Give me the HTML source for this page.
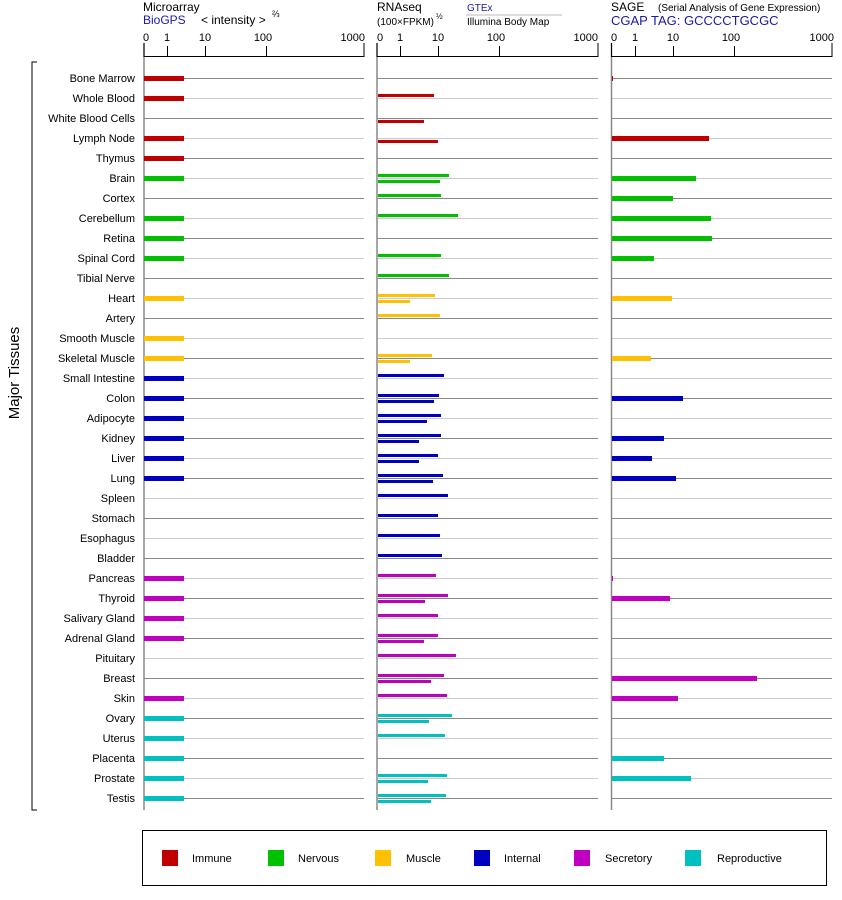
<!DOCTYPE html>
<html><head><meta charset="utf-8"><style>
html,body{margin:0;padding:0;background:#fff;}
svg{display:block;font-family:"Liberation Sans",Arial,sans-serif;}
</style></head><body>
<svg id="s" width="842" height="900" viewBox="0 0 842 900" xmlns="http://www.w3.org/2000/svg">
<rect width="842" height="900" fill="#fff"/>
<g font-size="12" fill="#000">
<text x="143" y="11">Microarray</text>
<text x="143" y="24" fill="#1a1aa6">BioGPS</text>
<text x="201" y="24">&lt; intensity &gt;</text>
<text x="272" y="17" font-size="9">⅔</text>
<text x="377" y="11">RNAseq</text>
<text x="377" y="25" font-size="10">(100×FPKM)</text>
<text x="436" y="19" font-size="8">½</text>
<text x="467" y="11" font-size="10" fill="#1a1aa6">GTEx</text>
<line x1="466" y1="15" x2="562" y2="15" stroke="#bbb"/>
<text x="467" y="25" font-size="10">Illumina Body Map</text>
<text x="611" y="11">SAGE</text>
<text x="658" y="11" font-size="10">(Serial Analysis of Gene Expression)</text>
<text x="611" y="25" fill="#1a1aa6" font-size="13">CGAP TAG: GCCCCTGCGC</text>
</g>
<g font-size="11" fill="#000">
<text x="143" y="41">0</text><text x="167" y="41" text-anchor="middle">1</text><text x="205" y="41" text-anchor="middle">10</text><text x="263" y="41" text-anchor="middle">100</text><text x="365" y="41" text-anchor="end">1000</text>
<text x="377" y="41">0</text><text x="400" y="41" text-anchor="middle">1</text><text x="438" y="41" text-anchor="middle">10</text><text x="496" y="41" text-anchor="middle">100</text><text x="598" y="41" text-anchor="end">1000</text>
<text x="611" y="41">0</text><text x="635" y="41" text-anchor="middle">1</text><text x="673" y="41" text-anchor="middle">10</text><text x="731" y="41" text-anchor="middle">100</text><text x="834" y="41" text-anchor="end">1000</text>
</g>
<g id="grid"></g>
<g font-size="11" fill="#000" text-anchor="end">
<text x="135" y="82">Bone Marrow</text>
<text x="135" y="102">Whole Blood</text>
<text x="135" y="122">White Blood Cells</text>
<text x="135" y="142">Lymph Node</text>
<text x="135" y="162">Thymus</text>
<text x="135" y="182">Brain</text>
<text x="135" y="202">Cortex</text>
<text x="135" y="222">Cerebellum</text>
<text x="135" y="242">Retina</text>
<text x="135" y="262">Spinal Cord</text>
<text x="135" y="282">Tibial Nerve</text>
<text x="135" y="302">Heart</text>
<text x="135" y="322">Artery</text>
<text x="135" y="342">Smooth Muscle</text>
<text x="135" y="362">Skeletal Muscle</text>
<text x="135" y="382">Small Intestine</text>
<text x="135" y="402">Colon</text>
<text x="135" y="422">Adipocyte</text>
<text x="135" y="442">Kidney</text>
<text x="135" y="462">Liver</text>
<text x="135" y="482">Lung</text>
<text x="135" y="502">Spleen</text>
<text x="135" y="522">Stomach</text>
<text x="135" y="542">Esophagus</text>
<text x="135" y="562">Bladder</text>
<text x="135" y="582">Pancreas</text>
<text x="135" y="602">Thyroid</text>
<text x="135" y="622">Salivary Gland</text>
<text x="135" y="642">Adrenal Gland</text>
<text x="135" y="662">Pituitary</text>
<text x="135" y="682">Breast</text>
<text x="135" y="702">Skin</text>
<text x="135" y="722">Ovary</text>
<text x="135" y="742">Uterus</text>
<text x="135" y="762">Placenta</text>
<text x="135" y="782">Prostate</text>
<text x="135" y="802">Testis</text>
</g>
<path d="M37 62H32V810H37" fill="none" stroke="#000"/>
<text transform="translate(19,373) rotate(-90)" font-size="15" text-anchor="middle">Major Tissues</text>
<rect x="142.5" y="830.5" width="684" height="55" fill="none" stroke="#000"/>
<g font-size="11">
<rect x="162" y="850" width="16" height="16" fill="#c00000"/><text x="192" y="862">Immune</text>
<rect x="268" y="850" width="16" height="16" fill="#00c000"/><text x="298" y="862">Nervous</text>
<rect x="375" y="850" width="16" height="16" fill="#ffc000"/><text x="406" y="862">Muscle</text>
<rect x="474" y="850" width="16" height="16" fill="#0000c0"/><text x="504" y="862">Internal</text>
<rect x="574" y="850" width="16" height="16" fill="#c000c0"/><text x="605" y="862">Secretory</text>
<rect x="685" y="850" width="16" height="16" fill="#00c0c0"/><text x="717" y="862">Reproductive</text>
</g>
<g id="bars"></g>
</svg>
<script>
var NS="http://www.w3.org/2000/svg";
function el(p,t,a){var e=document.createElementNS(NS,t);for(var k in a)e.setAttribute(k,a[k]);p.appendChild(e);return e;}
var g=document.getElementById("grid"),b=document.getElementById("bars");
var N=37;
var panels=[[144,364,[167,205,266]],[377,598,[400,438,499]],[611.5,832,[635,673,734]]];
panels.forEach(function(p){
 for(var i=0;i<N;i++){var y=78+20*i+0.5;el(g,"line",{x1:p[0],x2:p[1],y1:y,y2:y,stroke:i%2?"#cccccc":"#888888"});}
 el(g,"line",{x1:p[0],x2:p[0],y1:43,y2:810,stroke:"#888",'stroke-width':1.5});
 el(g,"line",{x1:p[0],x2:p[1],y1:56.5,y2:56.5,stroke:"#000"});
 el(g,"line",{x1:p[0],x2:p[0],y1:43,y2:57,stroke:"#000"});
 el(g,"line",{x1:p[1],x2:p[1],y1:43,y2:57,stroke:"#000"});
 p[2].forEach(function(x){el(g,"line",{x1:x+.5,x2:x+.5,y1:46,y2:57,stroke:"#000"});});
});
var C={I:"#c00000",N:"#00c000",M:"#ffc000",T:"#0000c0",S:"#c000c0",R:"#00c0c0"};
var cat=[];for(var i=0;i<N;i++)cat.push(i<5?"I":i<11?"N":i<15?"M":i<25?"T":i<32?"S":"R");
var ma=[1,1,0,1,1, 1,0,1,1,1,0, 1,0,1,1, 1,1,1,1,1,1,0,0,0,0, 1,1,1,1,0,0,1, 1,1,1,1,1];
var r1={1:434,5:449,6:441,7:458,9:441,10:449,11:435,12:440,14:432,15:444,16:439,17:441,18:441,19:438,20:443,21:448,22:438,23:440,24:442,25:436,26:448,27:438,28:438,29:456,30:444,31:447,32:452,33:445,35:447,36:446};
var r2={2:424,3:438,5:440,11:410,14:410,16:434,17:427,18:419,19:419,20:433,26:425,28:424,30:431,32:429,35:428,36:431};
var sg={0:613,3:709,5:696,6:673,7:711,8:712,9:654,11:672,14:651,16:683,18:664,19:652,20:676,25:613,26:670,30:757,31:678,34:664,35:691};
for(var i=0;i<N;i++){
 var y=78+20*i, c=C[cat[i]];
 if(ma[i]) el(b,"rect",{x:144,y:y-2,width:40,height:5,fill:c});
 if(r1[i]) el(b,"rect",{x:378,y:y-4,width:r1[i]-378,height:3,fill:c});
 if(r2[i]) el(b,"rect",{x:378,y:y+2,width:r2[i]-378,height:3,fill:c});
 if(sg[i]) el(b,"rect",{x:612,y:y-2,width:sg[i]-612,height:5,fill:c});
}
</script>
</body></html>
